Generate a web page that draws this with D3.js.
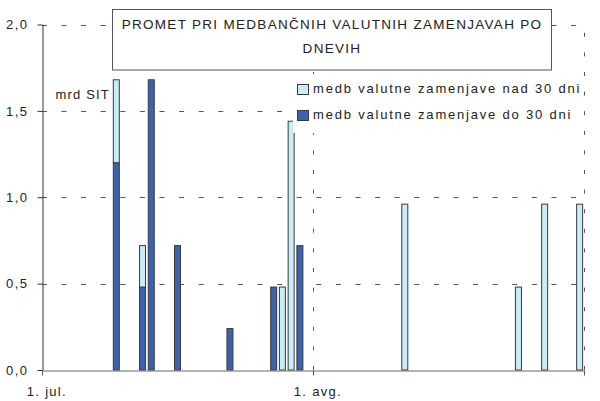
<!DOCTYPE html>
<html>
<head>
<meta charset="utf-8">
<script src="https://cdn.jsdelivr.net/npm/d3@7"></script>
<style>
  body { margin: 0; background: #fff; }
  svg text { font-family: "Liberation Sans", Arial, sans-serif; fill: #222; }
</style>
</head>
<body>
<div id="chart"></div>
<script>
// days with trades (2004)
const dates = ["2004-07-09", "2004-07-12", "2004-07-13", "2004-07-16", "2004-07-22",
  "2004-07-27", "2004-07-28", "2004-07-29", "2004-07-30",
  "2004-08-11", "2004-08-24", "2004-08-27", "2004-08-31"];
// mrd SIT
const do30 = [1.2, 0.48, 1.68, 0.72, 0.24, 0.48, 0, 0, 0.72, 0, 0, 0, 0];
const nad30 = [0.48, 0.24, 0, 0, 0, 0, 0.48, 1.44, 0, 0.96, 0.48, 0.96, 0.96];
const seriesNames = ["medb valutne zamenjave nad 30 dni", "medb valutne zamenjave do 30 dni"];
const yTicks = [0, 0.5, 1.0, 1.5, 2.0];
const xTicks = ["2004-07-01", "2004-08-01", "2004-09-01"];
const monthNames = ["jan.", "feb.", "mar.", "apr.", "maj", "jun.", "jul.", "avg.", "sep.", "okt.", "nov.", "dec."];
const titleLines = ["PROMET PRI MEDBANČNIH VALUTNIH ZAMENJAVAH PO", "DNEVIH"];
const unitLabel = "mrd SIT";

const W = 600, H = 401;
const margin = {top: 24.5, right: 16, bottom: 31, left: 42};
const colDark = "#3a62ae", colLight = "#c9ecf9", colEdge = "#3a3a3a";

const parse = d3.utcParse("%Y-%m-%d");
const data = dates.map((d, i) => ({date: parse(d), do30: do30[i], nad30: nad30[i]}));

const svg = d3.select("#chart").append("svg")
  .attr("width", W)
  .attr("height", H);

const x = d3.scaleUtc()
  .domain([parse(xTicks[0]), parse(xTicks[xTicks.length - 1])])
  .range([margin.left, W - margin.right]);

const y = d3.scaleLinear()
  .domain([0, 2])
  .range([H - margin.bottom, margin.top]);

const day = x(d3.utcDay.offset(parse(xTicks[0]), 1)) - x(parse(xTicks[0]));
const barW = 6;
const fmt = d => d3.format(".1f")(d).replace(".", ",");

// horizontal dashed grid
svg.append("g")
  .selectAll("line")
  .data(yTicks.filter(d => d > 0))
  .join("line")
  .attr("x1", margin.left)
  .attr("x2", W - margin.right)
  .attr("y1", d => Math.round(y(d)) + 0.5)
  .attr("y2", d => Math.round(y(d)) + 0.5)
  .attr("stroke", "#555")
  .attr("stroke-dasharray", "5,14.6")
  .attr("stroke-dashoffset", -19.5);

// vertical dashed grid at month starts
svg.append("g")
  .selectAll("line")
  .data(xTicks.slice(1).map(parse))
  .join("line")
  .attr("x1", d => Math.round(x(d)) + 0.5)
  .attr("x2", d => Math.round(x(d)) + 0.5)
  .attr("y1", y(0))
  .attr("y2", y(2))
  .attr("stroke", "#555")
  .attr("stroke-dasharray", "4,15.6");

// stacked bars: do 30 dni at the bottom, nad 30 dni on top
const bars = svg.append("g");
bars.selectAll(".bar-do")
  .data(data.filter(d => d.do30 > 0))
  .join("rect")
  .attr("class", "bar-do")
  .attr("x", d => x(d.date) + day / 2 - barW / 2)
  .attr("width", barW)
  .attr("y", d => y(d.do30))
  .attr("height", d => y(0) - y(d.do30))
  .attr("fill", colDark)
  .attr("stroke", colEdge)
  .attr("stroke-width", 1);

bars.selectAll(".bar-nad")
  .data(data.filter(d => d.nad30 > 0))
  .join("rect")
  .attr("class", "bar-nad")
  .attr("x", d => x(d.date) + day / 2 - barW / 2)
  .attr("width", barW)
  .attr("y", d => y(d.do30 + d.nad30))
  .attr("height", d => y(d.do30) - y(d.do30 + d.nad30))
  .attr("fill", colLight)
  .attr("stroke", colEdge)
  .attr("stroke-width", 1);

// y axis
const yAxis = svg.append("g")
  .attr("transform", `translate(${margin.left + 0.5},0)`)
  .call(d3.axisLeft(y).tickValues(yTicks).tickFormat(fmt).tickSize(5).tickSizeOuter(0).tickPadding(9));
yAxis.select(".domain").attr("stroke", "#333");
yAxis.selectAll(".tick line").attr("stroke", "#333");
yAxis.selectAll("text")
  .attr("font-size", 13)
  .attr("letter-spacing", 1.5)
  .attr("fill", "#222");

// x axis
const xAxis = svg.append("g")
  .attr("transform", `translate(0,${Math.round(y(0)) + 0.5})`)
  .call(d3.axisBottom(x)
    .tickValues(xTicks.map(parse))
    .tickFormat((d, i) => i < xTicks.length - 1 ? "1. " + monthNames[d.getUTCMonth()] : "")
    .tickSize(5).tickSizeOuter(0).tickPadding(11));
xAxis.select(".domain").attr("stroke", "#666");
xAxis.selectAll(".tick line").attr("stroke", "#555");
xAxis.selectAll("text")
  .attr("font-size", 13)
  .attr("letter-spacing", 1.3)
  .attr("fill", "#222")
  .attr("dx", day / 2);

// unit label
svg.append("text")
  .attr("x", 110)
  .attr("y", 99)
  .attr("text-anchor", "end")
  .attr("font-size", 13)
  .attr("letter-spacing", 1.2)
  .text(unitLabel);

// title box
const tb = svg.append("g");
tb.append("rect")
  .attr("x", 112.5).attr("y", 9.5)
  .attr("width", 439).attr("height", 60.5)
  .attr("fill", "#fff")
  .attr("stroke", "#555");
tb.selectAll("text")
  .data(titleLines)
  .join("text")
  .attr("x", 332)
  .attr("y", (d, i) => 29 + i * 23.5)
  .attr("text-anchor", "middle")
  .attr("font-size", 13.5)
  .attr("letter-spacing", 1.3)
  .text(d => d);

// legend
const lg = svg.append("g");
lg.append("rect")
  .attr("x", 293).attr("y", 74)
  .attr("width", 290).attr("height", 59)
  .attr("fill", "#fff");
const items = lg.selectAll("g")
  .data(seriesNames)
  .join("g")
  .attr("transform", (d, i) => `translate(297,${84 + i * 26})`);
items.append("rect")
  .attr("x", 0.5).attr("y", 0.5)
  .attr("width", 11).attr("height", 10)
  .attr("fill", (d, i) => i === 0 ? colLight : colDark)
  .attr("stroke", colEdge);
items.append("text")
  .attr("x", 16)
  .attr("y", 9)
  .attr("font-size", 13)
  .attr("letter-spacing", 1.8)
  .text(d => d);
</script>
</body>
</html>
